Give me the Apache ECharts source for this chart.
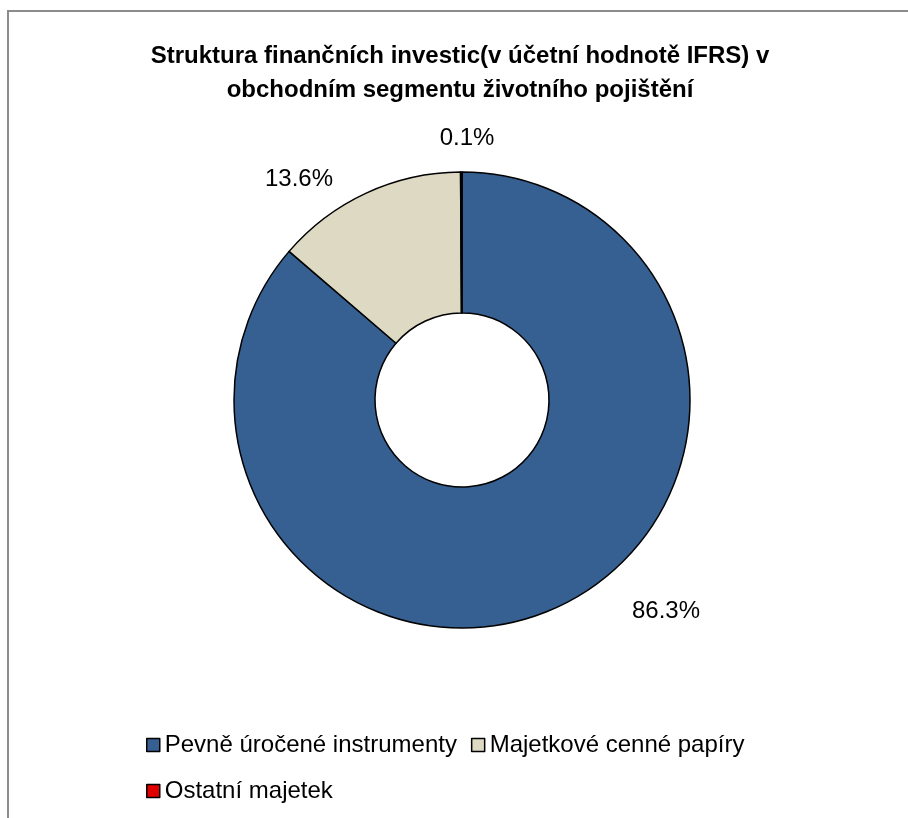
<!DOCTYPE html>
<html>
<head>
<meta charset="utf-8">
<script src="https://cdn.jsdelivr.net/npm/echarts@6/dist/echarts.min.js"></script>
<style>
  html, body { margin: 0; padding: 0; background: #fff; }
  #main { width: 908px; height: 818px; }
</style>
</head>
<body>
<div id="main"></div>
<script>
// data
var categories = ['Pevně úročené instrumenty', 'Majetkové cenné papíry', 'Ostatní majetek'];
var values = [86.3, 13.6, 0.1];
var colors = ['#376092', '#ddd9c3', '#e00000'];
// where Excel put the % labels (centre of text)
var labelPos = [[666, 611], [299, 179], [467, 138]];

var chart = echarts.init(document.getElementById('main'), null, { renderer: 'canvas' });

var option = {
  backgroundColor: '#fff',
  animation: false,
  title: {
    text: 'Struktura finančních investic(v účetní hodnotě IFRS) v\nobchodním segmentu životního pojištění',
    left: 455,
    top: 34,
    textAlign: 'center',
    textStyle: {
      fontFamily: 'Liberation Sans',
      fontWeight: 'bold',
      fontSize: 24,
      lineHeight: 34,
      color: '#000'
    }
  },
  legend: {
    left: 141,
    top: 724,
    width: 680,
    orient: 'horizontal',
    itemWidth: 13,
    itemHeight: 13,
    itemGap: 14,
    icon: 'rect',
    textStyle: {
      fontFamily: 'Liberation Sans',
      fontSize: 24,
      lineHeight: 32,
      color: '#000'
    },
    itemStyle: { borderColor: '#000', borderWidth: 1.5 },
    data: categories
  },
  graphic: [{
    type: 'rect',
    shape: { x: 8, y: 11, width: 930, height: 900 },
    style: { fill: null, stroke: '#8c8c8c', lineWidth: 2 },
    silent: true
  }],
  series: [{
    type: 'pie',
    center: [462, 400],
    radius: [87, 228],
    startAngle: 90,
    clockwise: true,
    itemStyle: { borderColor: '#000', borderWidth: 1.5 },
    label: {
      show: true,
      position: 'outside',
      formatter: function (p) { return p.value.toFixed(1) + '%'; },
      fontFamily: 'Liberation Sans',
      fontSize: 24,
      color: '#000'
    },
    labelLine: { show: false },
    labelLayout: function (p) {
      var pos = labelPos[p.dataIndex];
      return { x: pos[0], y: pos[1], align: 'center', verticalAlign: 'middle' };
    },
    data: categories.map(function (c, i) {
      return { name: c, value: values[i], itemStyle: { color: colors[i] } };
    })
  }]
};

chart.setOption(option);
</script>
</body>
</html>
